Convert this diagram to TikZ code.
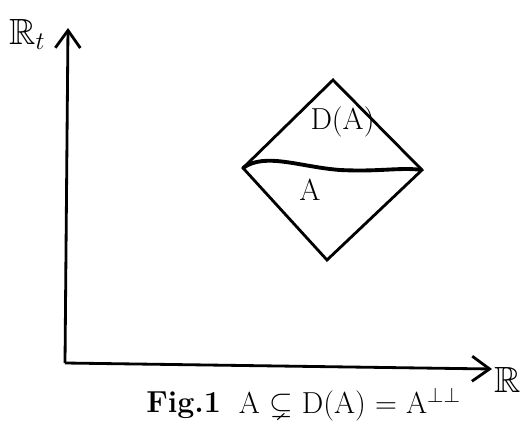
\documentclass[tikz,border=0pt]{standalone}
\usepackage{amssymb}
\usetikzlibrary{arrows.meta}

\begin{document}
\begin{tikzpicture}[line width=1.6pt, font=\LARGE]
  \useasboundingbox (0,0) rectangle (10.4,8.54);
  % axes
  \coordinate (O) at (1.3,1.28);
  \coordinate (ytip) at (1.36,7.98);
  \coordinate (xtip) at (9.84,1.16);
  \draw[-{Straight Barb[length=3.5mm,width=5mm]}] (O) -- (ytip);
  \draw[-{Straight Barb[length=3.5mm,width=5mm]}] (O) -- (xtip);
  \node[font=\huge] (rt) at (0.55,7.85) {$\mathbb{R}_t$};
  \node[font=\huge] (rx) at (10.15,0.95) {$\mathbb{R}$};
  % diamond D(A)
  \coordinate (top) at (6.66,6.94);
  \coordinate (left) at (4.86,5.18);
  \coordinate (bot) at (6.54,3.34);
  \coordinate (right) at (8.44,5.14);
  \draw (top) -- (right) -- (bot) -- (left) -- cycle;
  \draw[line width=2.2pt] (left) .. controls (5.3,5.5) and (6.0,5.2) .. (6.8,5.14)
    .. controls (7.6,5.1) and (8.0,5.2) .. (right);
  \node (da) at (6.85,6.1) {D(A)};
  \node (a) at (6.2,4.75) {A};
  % caption
  \node[anchor=west, inner sep=0pt] (fig) at (2.9,0.44) {\textbf{Fig.1}};
  \node[anchor=west, inner sep=0pt] (cap) at (4.75,0.46) {A $\subsetneq$ D(A) = A$^{\perp\perp}$};
\end{tikzpicture}
\end{document}
